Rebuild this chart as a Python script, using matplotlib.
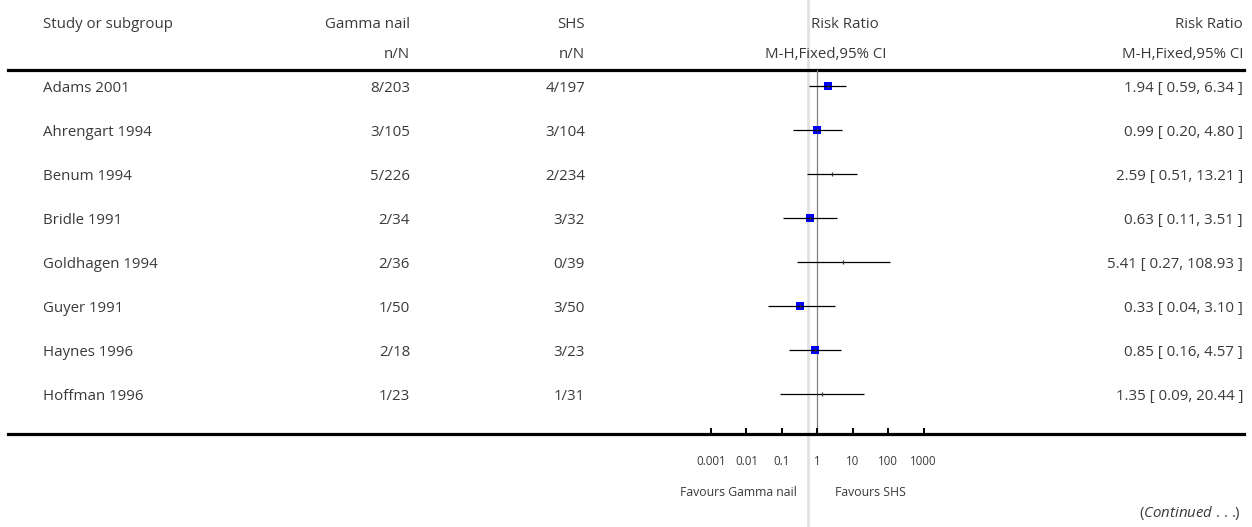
import matplotlib
matplotlib.use("Agg")
import matplotlib.pyplot as plt
from matplotlib.lines import Line2D
import numpy as np

# ---------------- data ----------------
studies = ["Adams 2001", "Ahrengart 1994", "Benum 1994", "Bridle 1991",
           "Goldhagen 1994", "Guyer 1991", "Haynes 1996", "Hoffman 1996"]
gamma_nN = ["8/203", "3/105", "5/226", "2/34", "2/36", "1/50", "2/18", "1/23"]
shs_nN = ["4/197", "3/104", "2/234", "3/32", "0/39", "3/50", "3/23", "1/31"]
rr = [1.94, 0.99, 2.59, 0.63, 5.41, 0.33, 0.85, 1.35]
ci_lo = [0.59, 0.20, 0.51, 0.11, 0.27, 0.04, 0.16, 0.09]
ci_hi = [6.34, 4.80, 13.21, 3.51, 108.93, 3.10, 4.57, 20.44]
show_box = [True, True, False, True, False, True, True, False]
tick_vals = [0.001, 0.01, 0.1, 1, 10, 100, 1000]
tick_labels = ["0.001", "0.01", "0.1", "1", "10", "100", "1000"]

# ---------------- figure ----------------
W, H = 1252, 527
DPI = 100
plt.rcParams["font.family"] = ["Open Sans", "DejaVu Sans"]
plt.rcParams["mathtext.fontset"] = "custom"
plt.rcParams["mathtext.it"] = "Open Sans:italic"
plt.rcParams["mathtext.rm"] = "Open Sans"
fig = plt.figure(figsize=(W / DPI, H / DPI), dpi=DPI)
fig.patch.set_facecolor("white")

TXT = "#3a3a3a"
FS = 10.8
FS_TICK = 8.3
FS_FAV = 8.8
DY = 2.0  # text baseline nudge (pixels)

# overlay axes in pixel coordinates (for layout text / rules)
ov = fig.add_axes([0, 0, 1, 1], zorder=1)
ov.set_xlim(0, W)
ov.set_ylim(H, 0)
ov.axis("off")
ov.patch.set_alpha(0)

# light gray guide line spanning full height
ov.add_line(Line2D([808, 808], [0, H], color="#e2e2e2", lw=2.0, zorder=0))

# horizontal rules
ov.add_line(Line2D([8, 1244], [69.5, 69.5], color="black", lw=2.3, zorder=3))
ov.add_line(Line2D([8, 1244], [434.3, 434.3], color="black", lw=2.3, zorder=3))


def t(x, y, s, ha, fs=FS, **kw):
    ov.text(x, y + DY, s, ha=ha, va="center", fontsize=fs, color=TXT, **kw)


# headers
t(43, 22, "Study or subgroup", "left")
t(410, 22, "Gamma nail", "right")
t(410, 53, "n/N", "right")
t(585, 22, "SHS", "right")
t(585, 53, "n/N", "right")
t(845, 22, "Risk Ratio", "center")
t(826, 53, "M-H,Fixed,95% CI", "center")
t(1243, 22, "Risk Ratio", "right")
t(1243, 53, "M-H,Fixed,95% CI", "right")

# forest axes: log scale, rows 0..7
x0_px, x1_px = 711.0, 923.7
top_px, bot_px = 70.0, 434.3
row0_px, row_step = 86.3, 44.0
ax = fig.add_axes([x0_px / W, 1 - bot_px / H, (x1_px - x0_px) / W, (bot_px - top_px) / H],
                  zorder=2)
ax.set_xscale("log")
ax.set_xlim(1e-3, 1e3)
ax.set_ylim((bot_px - row0_px) / row_step, (top_px - row0_px) / row_step)
ax.patch.set_alpha(0)
for s in ax.spines.values():
    s.set_visible(False)
ax.set_yticks([])
ax.set_xticks(tick_vals)
ax.set_xticklabels(tick_labels)
ax.xaxis.set_minor_locator(matplotlib.ticker.NullLocator())
ax.tick_params(axis="x", direction="in", length=4.0, width=1.4, pad=15,
               labelsize=FS_TICK, labelcolor=TXT, color="black")

ax.axvline(1, color="#808080", lw=0.9, zorder=1)

for i in range(len(studies)):
    y = row0_px + row_step * i
    t(43, y, studies[i], "left")
    t(410, y, gamma_nN[i], "right")
    t(585, y, shs_nN[i], "right")
    t(1243, y, f"{rr[i]:.2f} [ {ci_lo[i]:.2f}, {ci_hi[i]:.2f} ]", "right")
    if show_box[i]:
        ax.plot([rr[i]], [i], marker="s", markersize=5.4, color="#0000ff",
                markeredgewidth=0, zorder=3, clip_on=False)
    ax.plot([ci_lo[i], ci_hi[i]], [i, i], color="black", lw=0.9, zorder=4,
            clip_on=False, solid_capstyle="butt")
    ax.plot([rr[i]], [i], marker="|", markersize=3.0, color="#333333",
            markeredgewidth=0.9, zorder=5, clip_on=False)

# favours labels
t(797, 490, "Favours Gamma nail", "right", fs=FS_FAV)
t(835, 490, "Favours SHS", "left", fs=FS_FAV)

# continued
t(1241, 511, r"($\mathit{Continued}$ . . .)", "right")

fig.savefig("out.png", dpi=DPI, facecolor="white")
